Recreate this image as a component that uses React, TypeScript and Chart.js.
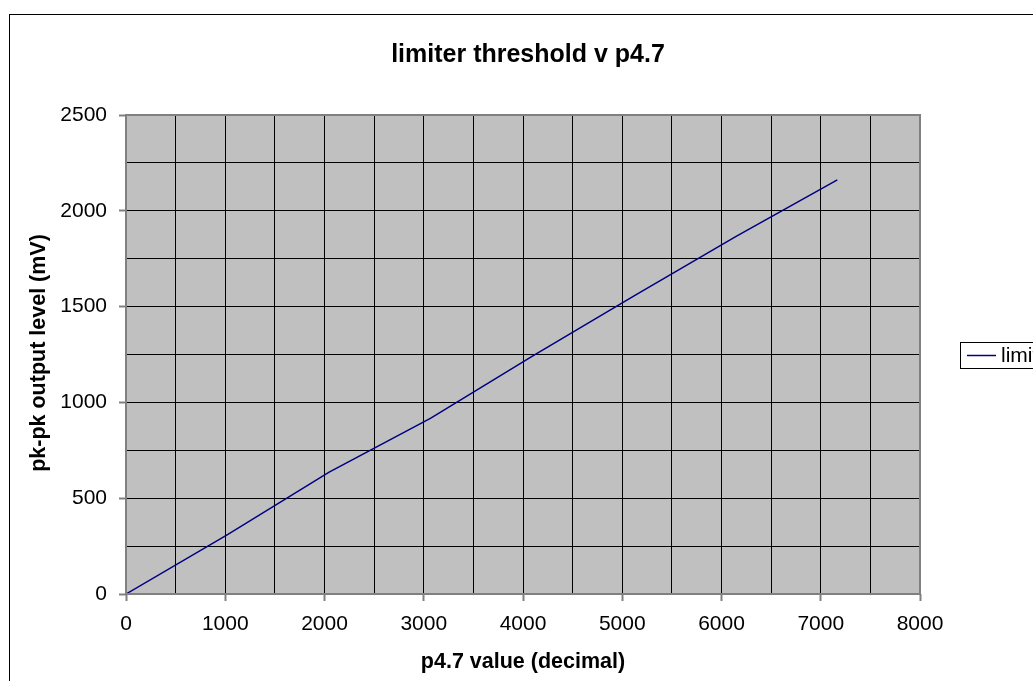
import React, { useEffect, useRef } from "react";
import { Chart, registerables } from "chart.js";
Chart.register(...registerables);

const xValues = [0, 1023, 2047, 3071, 4095, 5119, 6143, 7167];
const yValues = [0, 310, 636, 918, 1242, 1556, 1865, 2161];
const seriesName = "limiter threshold";
const chartTitle = "limiter threshold v p4.7";
const xAxisTitle = "p4.7 value (decimal)";
const yAxisTitle = "pk-pk output level (mV)";
const xMin = 0;
const xMax = 8000;
const yMin = 0;
const yMax = 2500;

const FONT = "'Liberation Sans', Arial, Helvetica, sans-serif";

const decorPlugin = {
  id: "decor",
  beforeDraw(chart: any) {
    const { ctx, chartArea } = chart;
    ctx.save();
    ctx.fillStyle = "#ffffff";
    ctx.fillRect(0, 0, chart.width, chart.height);
    ctx.fillStyle = "#c0c0c0";
    ctx.fillRect(chartArea.left, chartArea.top, chartArea.right - chartArea.left, chartArea.bottom - chartArea.top);
    ctx.restore();
  },
  afterDatasetsDraw(chart: any) {
    const { ctx, chartArea } = chart;
    ctx.save();
    ctx.strokeStyle = "#808080";
    ctx.lineWidth = 2;
    ctx.strokeRect(chartArea.left, chartArea.top, chartArea.right - chartArea.left, chartArea.bottom - chartArea.top);
    ctx.restore();
  },
  afterDraw(chart: any) {
    const { ctx } = chart;
    ctx.save();
    ctx.strokeStyle = "#000000";
    ctx.lineWidth = 1;
    ctx.strokeRect(9.5, 14.5, 1100, 700);
    ctx.fillStyle = "#000000";
    ctx.textAlign = "center";
    ctx.textBaseline = "middle";
    ctx.font = `bold 25px ${FONT}`;
    ctx.fillText(chartTitle, 528, 55);
    ctx.font = `bold 21.5px ${FONT}`;
    ctx.fillText(xAxisTitle, 523, 662);
    ctx.save();
    ctx.translate(39, 353);
    ctx.rotate(-Math.PI / 2);
    ctx.fillText(yAxisTitle, 0, 0);
    ctx.restore();
    ctx.fillStyle = "#ffffff";
    ctx.fillRect(960, 342, 120, 26);
    ctx.strokeStyle = "#000000";
    ctx.lineWidth = 1;
    ctx.strokeRect(960.5, 342.5, 120, 26);
    ctx.strokeStyle = "#000080";
    ctx.lineWidth = 1.5;
    ctx.beginPath();
    ctx.moveTo(967, 355.5);
    ctx.lineTo(996, 355.5);
    ctx.stroke();
    ctx.fillStyle = "#000000";
    ctx.textAlign = "left";
    ctx.font = `21px ${FONT}`;
    ctx.fillText(seriesName, 1001, 356);
    ctx.restore();
  },
};

export default function App() {
  const ref = useRef<HTMLCanvasElement>(null);
  useEffect(() => {
    if (!ref.current) return;
    const chart = new Chart(ref.current, {
      type: "scatter",
      data: {
        datasets: [
          {
            label: seriesName,
            data: xValues.map((x, i) => ({ x, y: yValues[i] })),
            showLine: true,
            borderColor: "#000080",
            backgroundColor: "#000080",
            borderWidth: 1.5,
            pointRadius: 0,
            tension: 0,
          },
        ],
      },
      options: {
        responsive: false,
        animation: false,
        layout: { padding: { top: 115, right: 113, left: 0, bottom: 0 } },
        plugins: { legend: { display: false }, title: { display: false }, tooltip: { enabled: false } },
        scales: {
          x: {
            type: "linear",
            min: xMin,
            max: xMax,
            afterFit: (s: any) => {
              s.height = 87;
            },
            ticks: {
              stepSize: 500,
              autoSkip: false,
              maxRotation: 0,
              padding: 11,
              color: "#000000",
              font: { family: FONT, size: 21 },
              callback: (v: any) => (Number(v) % 1000 === 0 ? String(v) : ""),
            },
            grid: {
              color: "#000000",
              lineWidth: 1,
              tickLength: 7,
              tickColor: (c: any) => (c.tick && c.tick.value % 1000 === 0 ? "#808080" : "rgba(0,0,0,0)"),
              tickWidth: 2,
            },
            border: { display: false },
          },
          y: {
            type: "linear",
            min: yMin,
            max: yMax,
            afterFit: (s: any) => {
              s.width = 126;
            },
            ticks: {
              stepSize: 250,
              autoSkip: false,
              padding: 12,
              color: "#000000",
              font: { family: FONT, size: 21 },
              callback: (v: any) => (Number(v) % 500 === 0 ? String(v) : ""),
            },
            grid: {
              color: "#000000",
              lineWidth: 1,
              tickLength: 7,
              tickColor: (c: any) => (c.tick && c.tick.value % 500 === 0 ? "#808080" : "rgba(0,0,0,0)"),
              tickWidth: 2,
            },
            border: { display: false },
          },
        },
      },
      plugins: [decorPlugin],
    });
    return () => chart.destroy();
  }, []);
  return (
    <div style={{ position: "absolute", left: 0, top: 0, width: 1033, height: 681, overflow: "hidden" }}>
      <canvas ref={ref} width={1033} height={681} style={{ width: 1033, height: 681 }} />
    </div>
  );
}
